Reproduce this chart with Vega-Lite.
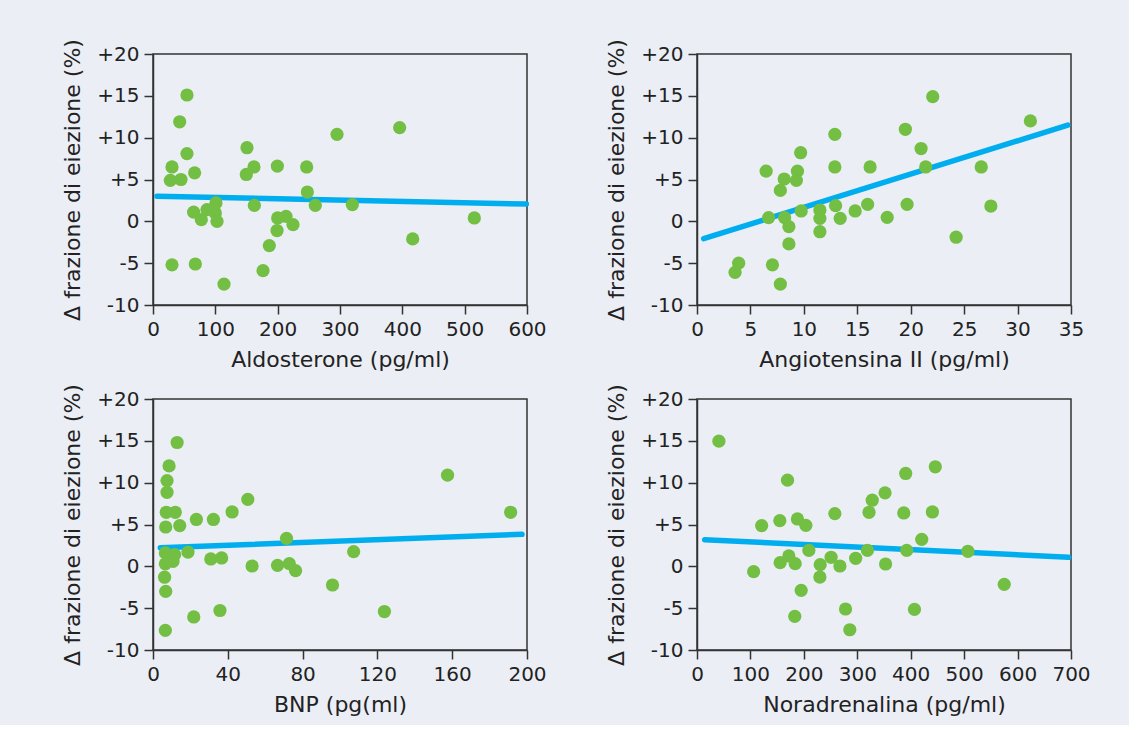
{
  "$schema": "https://vega.github.io/schema/vega-lite/v6.json",
  "background": "#ebeef5",
  "padding": {"left": 61, "top": 37, "right": 38, "bottom": 9},
  "bounds": "flush",
  "columns": 2,
  "spacing": {"row": 94, "column": 170},
  "datasets": {
    "aldo": [
      {"x":54.5,"y":15.1},{"x":42.8,"y":11.9},{"x":54.5,"y":8.1},{"x":30.5,"y":6.5},{"x":27.8,"y":4.9},{"x":44.9,"y":5.0},{"x":66.8,"y":5.8},{"x":65.2,"y":1.1},{"x":77.5,"y":0.2},{"x":86.6,"y":1.4},{"x":101,"y":2.2},{"x":100,"y":1.0},{"x":102.7,"y":0.0},{"x":30.5,"y":-5.2},{"x":67.9,"y":-5.1},{"x":113.9,"y":-7.5},{"x":150.8,"y":8.8},{"x":149.7,"y":5.6},{"x":162,"y":6.5},{"x":162.6,"y":1.9},{"x":199.5,"y":6.6},{"x":200,"y":0.4},{"x":213.4,"y":0.6},{"x":199,"y":-1.1},{"x":224.6,"y":-0.4},{"x":186.6,"y":-2.9},{"x":176.5,"y":-5.9},{"x":246.5,"y":6.5},{"x":247.6,"y":3.5},{"x":260.4,"y":1.9},{"x":295.2,"y":10.4},{"x":319.8,"y":2.0},{"x":395.7,"y":11.2},{"x":416.6,"y":-2.1},{"x":515.5,"y":0.4}
    ],
    "aldo_line": [{"x":6.4,"y":3.0},{"x":599,"y":2.07}],
    "angio": [
      {"x":3.56,"y":-6.1},{"x":3.9,"y":-5.0},{"x":6.47,"y":6.0},{"x":6.7,"y":0.44},{"x":7.06,"y":-5.2},{"x":7.8,"y":-7.5},{"x":7.8,"y":3.7},{"x":8.16,"y":5.06},{"x":8.2,"y":0.44},{"x":8.6,"y":-0.64},{"x":8.6,"y":-2.7},{"x":9.3,"y":4.9},{"x":9.4,"y":6.0},{"x":9.7,"y":8.2},{"x":9.75,"y":1.24},{"x":11.5,"y":1.35},{"x":11.5,"y":0.36},{"x":11.5,"y":-1.24},{"x":12.9,"y":10.4},{"x":12.9,"y":6.5},{"x":12.97,"y":1.87},{"x":13.4,"y":0.36},{"x":14.8,"y":1.24},{"x":15.97,"y":2.03},{"x":16.2,"y":6.5},{"x":17.8,"y":0.48},{"x":19.5,"y":11.0},{"x":19.66,"y":2.03},{"x":20.97,"y":8.7},{"x":21.4,"y":6.5},{"x":22.06,"y":14.9},{"x":24.25,"y":-1.9},{"x":26.6,"y":6.5},{"x":27.5,"y":1.83},{"x":31.2,"y":12.0}
    ],
    "angio_line": [{"x":0.625,"y":-2.07},{"x":34.7,"y":11.5}],
    "bnp": [
      {"x":12.9,"y":14.8},{"x":8.6,"y":12.0},{"x":7.5,"y":10.25},{"x":7.5,"y":8.85},{"x":7.1,"y":6.46},{"x":11.9,"y":6.46},{"x":6.8,"y":4.7},{"x":14.3,"y":4.87},{"x":23.2,"y":5.6},{"x":32.3,"y":5.6},{"x":42.3,"y":6.5},{"x":50.7,"y":8.0},{"x":6.6,"y":1.6},{"x":11.6,"y":1.4},{"x":18.7,"y":1.7},{"x":6.6,"y":0.3},{"x":10.7,"y":0.6},{"x":8.5,"y":1.0},{"x":30.9,"y":0.88},{"x":36.7,"y":1.0},{"x":53,"y":0.04},{"x":66.6,"y":0.12},{"x":72.9,"y":0.32},{"x":71.4,"y":3.35},{"x":76.25,"y":-0.52},{"x":6.2,"y":-1.3},{"x":6.8,"y":-3.0},{"x":6.6,"y":-7.65},{"x":21.8,"y":-6.05},{"x":35.8,"y":-5.28},{"x":96,"y":-2.23},{"x":107.3,"y":1.75},{"x":123.75,"y":-5.4},{"x":157.5,"y":10.9},{"x":191.25,"y":6.46}
    ],
    "bnp_line": [{"x":3.9,"y":2.23},{"x":197.3,"y":3.83}],
    "nora": [
      {"x":41,"y":14.96},{"x":106,"y":-0.64},{"x":121,"y":4.87},{"x":155,"y":5.46},{"x":155.6,"y":0.44},{"x":169.4,"y":10.3},{"x":171.9,"y":1.24},{"x":183.75,"y":0.32},{"x":183,"y":-5.98},{"x":188,"y":5.66},{"x":203.75,"y":4.9},{"x":195,"y":-2.87},{"x":209.4,"y":1.9},{"x":230.6,"y":0.2},{"x":230,"y":-1.28},{"x":251,"y":1.08},{"x":258,"y":6.3},{"x":267.5,"y":0.04},{"x":278,"y":-5.1},{"x":286,"y":-7.58},{"x":297,"y":0.96},{"x":319,"y":1.9},{"x":322,"y":6.46},{"x":328,"y":7.9},{"x":352,"y":8.78},{"x":353,"y":0.28},{"x":387,"y":6.38},{"x":390.6,"y":11.1},{"x":392.5,"y":1.9},{"x":407,"y":-5.15},{"x":420.6,"y":3.23},{"x":440.6,"y":6.5},{"x":446,"y":11.9},{"x":507,"y":1.8},{"x":575,"y":-2.15}
    ],
    "nora_line": [{"x":14.4,"y":3.19},{"x":695.6,"y":1.08}]
  },
  "concat": [
    {
      "width": 374, "height": 251,
      "layer": [
        {"data": {"name": "aldo_line"}, "mark": {"type": "line", "color": "#00aeef", "strokeWidth": 5.5, "strokeCap": "round"},
         "encoding": {
           "x": {"field": "x", "type": "quantitative", "scale": {"domain": [0, 600], "nice": false, "zero": false}, "axis": {"title": "Aldosterone (pg/ml)", "values": [0,100,200,300,400,500,600]}},
           "y": {"field": "y", "type": "quantitative", "scale": {"domain": [-10, 20], "nice": false, "zero": false}, "axis": {"title": "Δ frazione di eiezione (%)", "values": [-10,-5,0,5,10,15,20], "labelExpr": "datum.value > 0 ? '+' + datum.value : (datum.value < 0 ? '-' + abs(datum.value) : '0')"}}
         }},
        {"data": {"name": "aldo"}, "mark": {"type": "circle", "color": "#72bf44", "size": 175, "opacity": 1},
         "encoding": {"x": {"field": "x", "type": "quantitative"}, "y": {"field": "y", "type": "quantitative"}}}
      ]
    },
    {
      "width": 374, "height": 251,
      "layer": [
        {"data": {"name": "angio_line"}, "mark": {"type": "line", "color": "#00aeef", "strokeWidth": 5.5, "strokeCap": "round"},
         "encoding": {
           "x": {"field": "x", "type": "quantitative", "scale": {"domain": [0, 35], "nice": false, "zero": false}, "axis": {"title": "Angiotensina II (pg/ml)", "values": [0,5,10,15,20,25,30,35]}},
           "y": {"field": "y", "type": "quantitative", "scale": {"domain": [-10, 20], "nice": false, "zero": false}, "axis": {"title": "Δ frazione di eiezione (%)", "values": [-10,-5,0,5,10,15,20], "labelExpr": "datum.value > 0 ? '+' + datum.value : (datum.value < 0 ? '-' + abs(datum.value) : '0')"}}
         }},
        {"data": {"name": "angio"}, "mark": {"type": "circle", "color": "#72bf44", "size": 175, "opacity": 1},
         "encoding": {"x": {"field": "x", "type": "quantitative"}, "y": {"field": "y", "type": "quantitative"}}}
      ]
    },
    {
      "width": 374, "height": 251,
      "layer": [
        {"data": {"name": "bnp_line"}, "mark": {"type": "line", "color": "#00aeef", "strokeWidth": 5.5, "strokeCap": "round"},
         "encoding": {
           "x": {"field": "x", "type": "quantitative", "scale": {"domain": [0, 200], "nice": false, "zero": false}, "axis": {"title": "BNP (pg(ml)", "values": [0,40,80,120,160,200]}},
           "y": {"field": "y", "type": "quantitative", "scale": {"domain": [-10, 20], "nice": false, "zero": false}, "axis": {"title": "Δ frazione di eiezione (%)", "values": [-10,-5,0,5,10,15,20], "labelExpr": "datum.value > 0 ? '+' + datum.value : (datum.value < 0 ? '-' + abs(datum.value) : '0')"}}
         }},
        {"data": {"name": "bnp"}, "mark": {"type": "circle", "color": "#72bf44", "size": 175, "opacity": 1},
         "encoding": {"x": {"field": "x", "type": "quantitative"}, "y": {"field": "y", "type": "quantitative"}}}
      ]
    },
    {
      "width": 374, "height": 251,
      "layer": [
        {"data": {"name": "nora_line"}, "mark": {"type": "line", "color": "#00aeef", "strokeWidth": 5.5, "strokeCap": "round"},
         "encoding": {
           "x": {"field": "x", "type": "quantitative", "scale": {"domain": [0, 700], "nice": false, "zero": false}, "axis": {"title": "Noradrenalina (pg/ml)", "values": [0,100,200,300,400,500,600,700]}},
           "y": {"field": "y", "type": "quantitative", "scale": {"domain": [-10, 20], "nice": false, "zero": false}, "axis": {"title": "Δ frazione di eiezione (%)", "values": [-10,-5,0,5,10,15,20], "labelExpr": "datum.value > 0 ? '+' + datum.value : (datum.value < 0 ? '-' + abs(datum.value) : '0')"}}
         }},
        {"data": {"name": "nora"}, "mark": {"type": "circle", "color": "#72bf44", "size": 175, "opacity": 1},
         "encoding": {"x": {"field": "x", "type": "quantitative"}, "y": {"field": "y", "type": "quantitative"}}}
      ]
    }
  ],
  "config": {
    "font": "DejaVu Sans",
    "view": {"stroke": "#333333", "strokeWidth": 1.5, "fill": null},
    "axis": {
      "grid": false,
      "domainColor": "#333333", "domainWidth": 1.5,
      "tickColor": "#333333", "tickWidth": 1.5, "tickSize": 9,
      "labelFont": "DejaVu Sans", "labelFontSize": 20, "labelColor": "#222222", "labelPadding": 5,
      "labelFlush": false, "labelOverlap": false,
      "titleFont": "DejaVu Sans", "titleFontSize": 22, "titleFontWeight": "normal", "titleColor": "#222222"
    },
    "axisX": {"titlePadding": 10},
    "axisY": {"titlePadding": 12}
  }
}
